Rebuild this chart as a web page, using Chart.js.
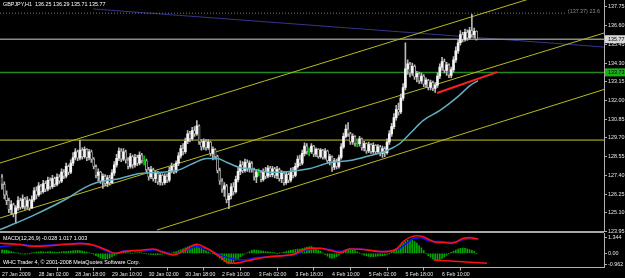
<!DOCTYPE html>
<html lang="en">
<head>
  <meta charset="UTF-8" />
  <title>GBPJPY,H1</title>
  <script src="https://cdn.jsdelivr.net/npm/chart.js@4.4.0/dist/chart.umd.min.js"></script>
  <style>
    html, body { margin: 0; padding: 0; background: #000; }
    #wrap { position: relative; width: 625px; height: 278px; overflow: hidden; background: #000; }
    #priceBox { position: absolute; left: 0; top: 0; width: 625px; height: 237px; }
    #macdBox { position: absolute; left: 0; top: 233px; width: 625px; height: 45px; }
  </style>
</head>
<body>
<div id="wrap">
  <div id="priceBox"><canvas id="priceChart"></canvas></div>
  <div id="macdBox"><canvas id="macdChart"></canvas></div>
</div>

<script>
  // ---- data (bar index = hourly bar from 27 Jan 10:00) ----
  const firstOpen = 127.30;
  const closes = [
    126.85,126.20,125.85,125.30,125.60,125.05,125.40,125.85,125.45,125.95,
    125.50,125.85,125.40,125.90,126.45,126.20,126.75,126.40,126.90,126.55,
    127.10,126.70,127.20,126.85,127.30,127.05,127.60,127.35,127.95,127.60,
    128.15,128.50,128.85,128.45,128.95,128.55,129.00,128.50,128.85,128.40,
    127.95,127.40,127.60,127.05,127.35,126.90,127.25,126.95,127.55,128.05,
    128.45,128.90,128.40,128.85,128.35,127.95,128.55,128.05,128.50,128.15,
    128.65,128.30,128.30,127.75,127.30,127.75,127.20,127.55,127.00,127.40,
    126.95,127.35,127.10,127.70,127.95,127.65,128.15,128.60,129.05,128.85,
    129.50,129.95,129.65,130.15,129.95,130.45,129.45,129.15,129.50,129.10,
    129.45,128.75,129.00,128.55,127.70,127.05,126.55,126.75,125.90,126.15,
    126.70,126.40,127.15,127.65,128.05,127.70,128.20,127.80,128.15,127.75,
    127.30,127.60,127.60,127.15,127.65,127.35,127.85,127.45,127.80,127.40,
    127.75,127.20,127.55,126.95,127.45,127.10,127.65,127.40,127.95,128.40,
    128.15,128.75,129.20,128.85,128.85,129.20,128.70,129.00,128.55,128.95,
    128.50,128.90,128.30,128.55,127.90,128.30,127.95,128.50,129.15,129.80,
    130.25,129.95,129.45,129.80,129.35,129.35,129.65,129.10,129.35,128.90,
    129.30,128.85,129.25,128.85,129.15,128.75,129.05,128.80,129.45,129.95,
    130.40,130.95,131.45,131.30,132.15,132.80,133.95,134.25,133.70,134.10,
    133.45,133.65,133.20,133.50,133.00,133.25,132.80,133.10,132.75,132.95,
    133.50,134.05,134.40,133.85,134.20,133.55,133.90,134.50,135.05,135.55,
    136.05,135.75,136.20,135.85,136.30,136.05,136.25,135.77
  ];
  const highs = [
    127.45,127.00,126.45,126.00,125.85,125.70,125.55,126.10,126.00,126.20,
    126.05,126.10,125.95,126.15,126.65,126.70,126.95,126.85,127.10,127.05,
    127.30,127.25,127.40,127.30,127.50,127.45,127.80,127.75,128.15,128.05,
    128.35,128.80,129.05,128.95,129.55,129.10,129.15,129.05,129.00,128.95,
    128.50,128.05,127.80,127.65,127.50,127.45,127.40,127.40,127.75,128.25,
    128.70,129.10,129.05,129.05,128.95,128.50,128.75,128.65,128.70,128.65,
    128.85,128.75,128.60,128.40,127.90,127.95,127.85,127.70,127.65,127.55,
    127.50,127.50,127.50,127.90,128.15,128.10,128.30,128.80,129.25,129.35,
    129.70,130.15,130.10,130.35,130.40,130.77,130.50,129.60,129.65,129.60,
    129.60,129.50,129.15,129.05,128.65,127.85,127.20,126.95,126.85,126.30,
    126.90,126.95,127.35,127.90,128.30,128.25,128.40,128.35,128.30,128.25,
    127.85,127.75,127.80,127.70,127.80,127.90,128.00,127.95,127.95,127.90,
    127.95,127.85,127.70,127.65,127.60,127.55,127.85,127.90,128.15,128.60,
    128.65,128.95,129.40,129.35,129.10,129.35,129.25,129.10,129.05,129.05,
    129.00,129.05,128.95,128.70,128.60,128.45,128.40,128.65,129.35,130.00,
    130.50,130.65,130.05,129.95,129.85,129.65,129.80,129.70,129.50,129.40,
    129.45,129.35,129.40,129.30,129.30,129.25,129.20,129.15,129.65,130.15,
    130.60,131.20,131.70,131.85,132.40,133.05,135.55,134.50,134.35,134.30,
    134.20,133.80,133.75,133.70,133.60,133.40,133.30,133.25,133.20,133.10,
    133.70,134.25,134.65,134.55,134.35,134.25,134.05,134.70,135.30,135.75,
    136.30,136.20,136.40,136.35,136.50,137.30,136.45,136.29
  ];
  const lows = [
    126.55,125.95,125.60,125.10,125.00,124.85,124.45,125.25,125.30,125.35,
    125.30,125.35,125.25,125.35,125.80,125.95,126.10,126.25,126.30,126.40,
    126.45,126.55,126.60,126.70,126.75,126.90,126.95,127.20,127.25,127.45,
    127.50,128.00,128.35,128.30,128.35,128.40,128.45,128.30,128.35,128.20,
    127.80,127.25,127.05,126.90,126.60,126.75,126.70,126.80,126.90,127.40,
    127.90,128.30,128.25,128.30,128.15,127.80,127.85,127.85,127.90,128.00,
    128.05,128.15,128.05,127.60,127.10,127.20,127.05,126.95,126.85,126.80,
    126.80,126.85,126.95,127.00,127.55,127.50,127.55,128.00,128.45,128.65,
    128.75,129.35,129.45,129.55,129.80,129.85,129.30,128.95,129.00,128.95,
    129.00,128.60,128.35,128.40,127.55,126.85,126.35,126.10,125.70,125.36,
    125.95,126.20,126.30,127.00,127.45,127.55,127.60,127.65,127.60,127.60,
    127.10,126.95,127.35,127.00,127.05,127.20,127.25,127.30,127.30,127.25,
    127.20,127.05,126.95,126.80,126.85,126.95,127.00,127.25,127.30,127.85,
    128.00,128.05,128.60,128.70,128.60,128.75,128.55,128.55,128.45,128.45,
    128.40,128.40,128.15,128.05,127.65,127.75,127.80,127.85,128.40,129.05,
    129.70,129.80,129.30,129.30,129.20,129.15,129.20,128.95,128.90,128.75,
    128.80,128.75,128.75,128.70,128.75,128.60,128.50,128.55,128.70,129.30,
    129.80,130.25,130.80,131.10,131.20,132.00,132.65,133.60,133.45,133.55,
    133.30,133.15,133.05,133.05,132.85,132.80,132.65,132.65,132.60,132.50,
    132.80,133.35,133.85,133.70,133.55,133.40,133.40,133.75,134.35,134.90,
    135.40,135.60,135.65,135.70,135.75,135.90,135.85,135.71
  ];

  // moving average, read at a few points
  const maIdx = [-0.9, 3.5, 13.5, 28.4, 35.3, 41.4, 51.5, 60.2, 76.4, 83.3, 89.4, 93.8, 98.2, 103.8, 108.2,
                 117, 125.7, 134.4, 143.1, 151.8, 160.6, 168, 173.6, 178, 183.7, 191.1, 198.5, 204.2, 207.7];
  const maVal = [124.07, 124.32, 124.93, 125.98, 126.59, 126.96, 127.21, 127.51, 127.70, 128.13, 128.44, 128.44, 128.19, 127.88, 127.82,
                 127.58, 127.64, 127.82, 128.19, 128.31, 128.62, 128.93, 129.36, 129.97, 130.77, 131.39, 132.19, 132.92, 133.23];

  // drawn objects: [bar index, price] end points
  const channelTop = [[-0.87, 128.16], [262.65, 139.67]];
  const channelMid = [[-0.87, 124.78], [262.65, 136.15]];
  const channelLow = [[67.6, 124.04], [262.65, 132.68]];
  const levelYellow = 129.57;
  const levelGreen = 133.73;
  const levelBid = 135.77;
  const fibLevel = 137.37;
  const fibEnd = 246;
  const navyLine = [[39.7, 137.63], [262.65, 135.29]];
  const redLine = [[189.8, 132.46], [216, 133.75]];

  const priceTicks = [123.95, 125.10, 126.25, 127.40, 128.55, 129.70, 130.85, 132.00, 133.15, 134.30, 135.45, 136.60, 137.75];
  const tickIdx = [0, 16, 32, 48, 64, 80, 96, 112, 128, 144, 160, 176, 192];
  const tickLabels = ['27 Jan 2009', '28 Jan 02:00', '28 Jan 18:00', '29 Jan 10:00', '30 Jan 02:00', '30 Jan 18:00',
                      '2 Feb 10:00', '3 Feb 02:00', '3 Feb 18:00', '4 Feb 10:00', '5 Feb 02:00', '5 Feb 18:00', '6 Feb 10:00'];

  // MACD window
  const hist = [
    0.30,0.28,0.25,0.20,0.15,0.10,0.05,0.02,-0.02,-0.05,
    -0.08,-0.06,-0.03,0.02,0.06,0.10,0.12,0.14,0.12,0.10,
    0.12,0.14,0.12,0.10,0.08,0.10,0.12,0.15,0.14,0.16,
    0.18,0.20,0.22,0.24,0.22,0.18,0.14,0.10,0.05,0.00,
    -0.10,-0.20,-0.30,-0.38,-0.45,-0.50,-0.48,-0.40,-0.30,-0.18,
    -0.08,0.02,0.06,0.10,0.08,0.05,0.02,0.00,0.03,0.05,
    0.06,0.04,0.00,-0.04,-0.08,-0.10,-0.12,-0.14,-0.12,-0.10,
    -0.08,-0.06,-0.04,0.00,0.05,0.10,0.15,0.22,0.30,0.38,
    0.46,0.54,0.60,0.66,0.70,0.68,0.55,0.40,0.30,0.20,
    0.12,0.05,-0.02,-0.10,-0.25,-0.40,-0.55,-0.70,-0.82,-0.90,
    -0.85,-0.72,-0.58,-0.42,-0.28,-0.15,-0.05,0.05,0.15,0.25,
    0.30,0.28,0.22,0.20,0.18,0.15,0.12,0.10,0.06,0.02,
    -0.02,0.02,0.05,0.10,0.15,0.20,0.25,0.30,0.32,0.35,
    0.36,0.40,0.45,0.50,0.55,0.56,0.50,0.42,0.30,0.18,
    0.05,-0.10,-0.25,-0.38,-0.42,-0.38,-0.28,-0.15,0.00,0.15,
    0.28,0.36,0.35,0.30,0.22,0.12,0.02,-0.08,-0.15,-0.22,
    -0.26,-0.28,-0.28,-0.26,-0.24,-0.22,-0.20,-0.16,-0.10,-0.02,
    0.10,0.25,0.40,0.55,0.70,0.85,0.98,1.08,1.12,1.10,
    1.00,0.85,0.65,0.45,0.22,0.00,-0.20,-0.35,-0.48,-0.55,
    -0.56,-0.52,-0.42,-0.30,-0.15,-0.02,0.08,0.18,0.28,0.36,
    0.42,0.44,0.42,0.38,0.32,0.25,0.16,-0.03
  ];
  const blueIdx = [-0.9, 3.5, 7.9, 13.7, 20.9, 28.2, 34, 38.4, 42.8, 47.1, 50, 52.9, 57.3, 61.6, 66, 70.4, 74.7, 79.1, 84.9, 89.3,
                   95.1, 100.9, 105.3, 111.1, 115.5, 121.3, 127.1, 131.5, 134.4, 138.7, 143.1, 147.5, 151.8, 156.2, 160.6, 164.9,
                   169.3, 173.6, 176.6, 179.5, 182.4, 185.3, 188.2, 191.1, 194, 196.9, 199.8, 202.7, 205.6, 207.8];
  const blueVal = [0.56, 0.64, 0.76, 0.64, 0.70, 0.79, 0.84, 0.76, 0.42, 0.08, 0.00, 0.19, 0.25, 0.19, 0.31, 0.14, -0.08, 0.19, 0.56, 0.36,
                   -0.14, -0.48, -0.56, -0.36, -0.31, -0.20, -0.14, 0.19, 0.36, 0.42, 0.31, 0.14, 0.36, 0.36, 0.25, 0.14,
                   0.19, 0.42, 0.84, 1.26, 1.32, 1.12, 0.98, 0.98, 0.92, 0.92, 1.09, 1.20, 1.20, 1.20];
  const redIdx = [-0.9, 6.4, 13.7, 20.9, 28.2, 34, 39.8, 45.7, 49.3, 52.9, 57.3, 61.6, 66, 70.4, 74.7, 79.1, 84.9, 89.3, 95.1, 99.5,
                  103.8, 109.6, 115.5, 121.3, 127.1, 131.5, 134.4, 138.7, 143.1, 147.5, 151.8, 156.2, 160.6, 164.9, 167.8, 172.2,
                  175.1, 178, 180.9, 183.8, 186.7, 189.7, 192.6, 195.5, 198.4, 201.3, 204.2, 207.8];
  const redVal = [0.84, 0.76, 0.59, 0.64, 0.76, 0.81, 0.70, 0.28, 0.00, 0.14, 0.22, 0.28, 0.36, 0.08, -0.14, 0.19, 0.76, 0.42, -0.28, -0.84,
                  -0.78, -0.53, -0.31, -0.22, -0.08, 0.28, 0.42, 0.42, 0.25, 0.08, 0.36, 0.34, 0.25, 0.14, 0.14, 0.36,
                  0.98, 1.34, 1.48, 1.40, 1.12, 0.92, 0.92, 0.84, 0.98, 1.26, 1.32, 1.20];
  const macdTrend = [[188.2, -0.56], [211.6, -0.84]];
  const macdTicks = [-0.962, 0, 1.344];
  const macdTickText = ['-0.962', '0.00', '1.344'];

  const titleText = 'GBPJPY,H1  136.25 136.29 135.71 135.77';
  const macdText = 'MACD(12,26,9) -0.028 1.017 1.003';
  const copyText = 'WHC Trader 4, \u00a9 2001-2008 MetaQuotes Software Corp.';
  const fibText = '(137.37) 23.6';

  // ---- chart setup ----
  Chart.defaults.font.family = '"Liberation Sans", Arial, sans-serif';
  Chart.defaults.color = '#e6e6e6';
  const smallFont = { size: 5.4 };
  const X_MIN = -0.873, X_MAX = 262.65;

  const opens = closes.map((c, i) => i === 0 ? firstOpen : closes[i - 1]);
  const isDoji = closes.map((c, i) => Math.abs(c - opens[i]) < 0.005);
  const wickData = closes.map((c, i) => ({ x: i, y: [lows[i], highs[i]] }));
  const bodyData = closes.map((c, i) => {
    let lo = Math.min(opens[i], c), hi = Math.max(opens[i], c);
    if (hi - lo < 0.03) { lo -= 0.015; hi += 0.015; }
    return { x: i, y: [lo, hi] };
  });
  const pts = arr => arr.map(p => ({ x: p[0], y: p[1] }));
  const flat = v => [{ x: X_MIN - 1, y: v }, { x: X_MAX + 1, y: v }];
  const lineDs = (data, color, width, order, extra) => Object.assign({
    type: 'line', data, borderColor: color, borderWidth: width, pointRadius: 0, fill: false, order
  }, extra || {});

  const priceOverlay = {
    id: 'priceOverlay',
    afterDraw(chart) {
      const { ctx, chartArea: a, scales: { x, y } } = chart;
      ctx.save();
      ctx.fillStyle = '#a8a8a8';
      ctx.fillRect(0, 231, a.right, 2);
      ctx.font = '5.4px "Liberation Sans"';
      ctx.textBaseline = 'middle';
      ctx.textAlign = 'left';
      ctx.fillStyle = '#ffffff';
      ctx.fillText(titleText, 3, 5);
      ctx.fillStyle = '#8c8c8c';
      ctx.fillText(fibText, x.getPixelForValue(fibEnd) + 2, y.getPixelForValue(fibLevel) - 2);
      [[levelBid, '#d8d8d8', '#000'], [levelGreen, '#19b319', '#000']].forEach(([v, bg, fg]) => {
        const py = y.getPixelForValue(v);
        ctx.fillStyle = bg;
        ctx.fillRect(a.right + 1, py - 4, 20, 8);
        ctx.fillStyle = fg;
        ctx.fillText(v.toFixed(2), a.right + 4, py + 0.5);
      });
      ctx.restore();
    }
  };

  new Chart(document.getElementById('priceChart'), {
    type: 'bar',
    data: {
      datasets: [
        lineDs(pts(channelTop), '#b9b91e', 1, 20),
        lineDs(pts(channelMid), '#b9b91e', 1, 20),
        lineDs(pts(channelLow), '#b9b91e', 1, 20),
        lineDs(flat(levelYellow), '#c8c81e', 1, 20),
        lineDs(flat(levelGreen), '#1f8a1f', 1.5, 20),
        lineDs(flat(levelBid), '#8a8a8a', 1.5, 20),
        lineDs([{ x: X_MIN, y: fibLevel }, { x: fibEnd, y: fibLevel }], '#7a7a7a', 1, 20, { borderDash: [1, 2] }),
        lineDs(pts(navyLine), '#35358c', 1, 20),
        {
          type: 'bar', data: wickData, grouped: false, barThickness: 1, order: 10,
          backgroundColor: isDoji.map(d => d ? '#00c800' : '#b8b8b8')
        },
        {
          type: 'bar', data: bodyData, grouped: false, barThickness: 2, order: 9, borderSkipped: false,
          backgroundColor: closes.map((c, i) => isDoji[i] ? '#00c800' : (c > opens[i] ? '#f4f4f4' : '#000000')),
          borderColor: closes.map((c, i) => isDoji[i] ? '#00c800' : '#b8b8b8'),
          borderWidth: closes.map((c, i) => (c > opens[i] || isDoji[i]) ? 0 : 0.8)
        },
        lineDs(maIdx.map((v, i) => ({ x: v, y: maVal[i] })), '#62aebf', 1.5, 2, { cubicInterpolationMode: 'monotone' }),
        lineDs(pts(redLine), '#ff2020', 2, 1)
      ]
    },
    options: {
      responsive: true,
      maintainAspectRatio: false,
      animation: false,
      layout: { padding: { left: 0, right: 0, top: 0, bottom: 5.5 } },
      plugins: { legend: { display: false }, tooltip: { enabled: false } },
      scales: {
        x: { type: 'linear', min: X_MIN, max: X_MAX, offset: false, display: false },
        y: {
          position: 'right', min: 123.95, max: 138.18,
          afterBuildTicks: axis => { axis.ticks = priceTicks.map(v => ({ value: v })); },
          afterFit: axis => { axis.width = 21; axis.paddingTop = 0; axis.paddingBottom = 0; },
          grid: { drawOnChartArea: false, tickLength: 3, color: '#b0b0b0' },
          border: { color: '#b0b0b0' },
          ticks: { font: smallFont, padding: 1, callback: v => v.toFixed(2) }
        }
      }
    },
    plugins: [priceOverlay]
  });

  const macdOverlay = {
    id: 'macdOverlay',
    afterDraw(chart) {
      const { ctx } = chart;
      ctx.save();
      ctx.font = '5.4px "Liberation Sans"';
      ctx.textBaseline = 'middle';
      ctx.textAlign = 'left';
      ctx.fillStyle = '#ffffff';
      ctx.fillText(macdText, 3, 6);
      ctx.fillText(copyText, 3, 29.7);
      ctx.restore();
    }
  };

  new Chart(document.getElementById('macdChart'), {
    type: 'bar',
    data: {
      datasets: [
        {
          type: 'bar', data: hist.map((h, i) => ({ x: i, y: h })), grouped: false,
          barThickness: 1, backgroundColor: '#00a800', order: 10
        },
        lineDs(blueIdx.map((v, i) => ({ x: v, y: blueVal[i] })), '#1010ff', 1.6, 3, { cubicInterpolationMode: 'monotone' }),
        lineDs(redIdx.map((v, i) => ({ x: v, y: redVal[i] })), '#ff1010', 1.6, 2, { cubicInterpolationMode: 'monotone' }),
        lineDs(pts(macdTrend), '#ff1010', 1.6, 1)
      ]
    },
    options: {
      responsive: true,
      maintainAspectRatio: false,
      animation: false,
      layout: { padding: 0 },
      plugins: { legend: { display: false }, tooltip: { enabled: false } },
      scales: {
        x: {
          type: 'linear', min: X_MIN, max: X_MAX, offset: false,
          afterBuildTicks: axis => { axis.ticks = tickIdx.map(v => ({ value: v })); },
          afterFit: axis => { axis.height = 10.5; axis.paddingLeft = 0; axis.paddingRight = 0; },
          grid: { drawOnChartArea: false, tickLength: 3, color: '#b0b0b0' },
          border: { color: '#b0b0b0' },
          ticks: {
            font: { size: 5.2 }, padding: 0.5, align: 'start', maxRotation: 0, autoSkip: false,
            callback: v => tickLabels[tickIdx.indexOf(v)]
          }
        },
        y: {
          position: 'right', min: -1.193, max: 1.706,
          afterBuildTicks: axis => { axis.ticks = macdTicks.map(v => ({ value: v })); },
          afterFit: axis => { axis.width = 21; axis.paddingTop = 0; axis.paddingBottom = 0; },
          grid: { drawOnChartArea: false, tickLength: 3, color: '#b0b0b0' },
          border: { color: '#b0b0b0' },
          ticks: { font: smallFont, padding: 1, callback: v => macdTickText[macdTicks.indexOf(v)] }
        }
      }
    },
    plugins: [macdOverlay]
  });
</script>
</body>
</html>
